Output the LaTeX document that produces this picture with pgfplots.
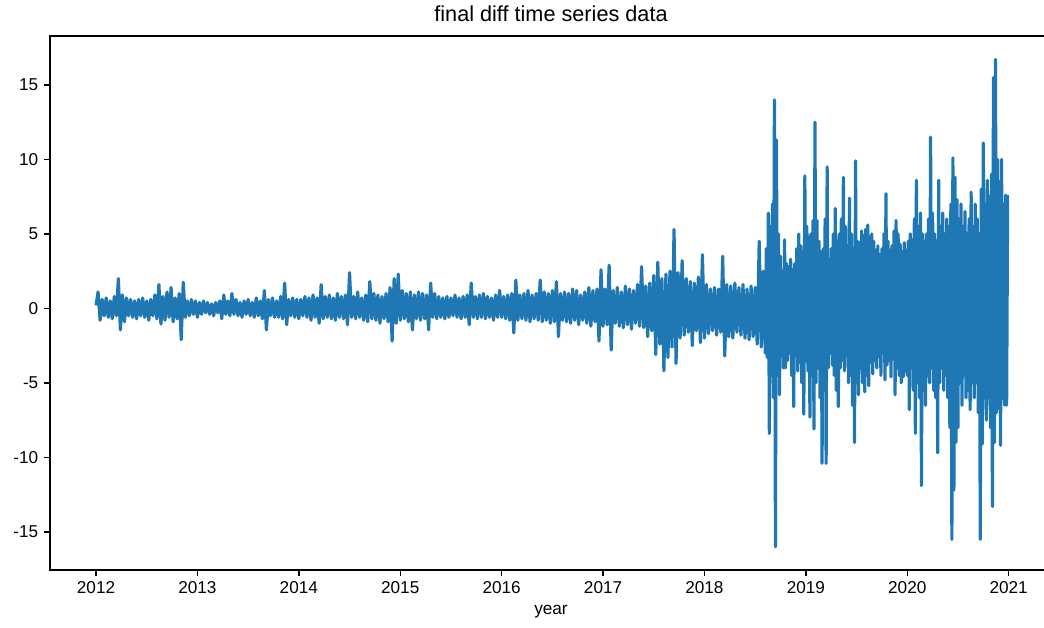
\documentclass[border=0pt]{standalone}
\usepackage{fontspec}
\setmainfont{Liberation Sans}
\usepackage{pgfplots}
\pgfplotsset{compat=1.18}
\definecolor{mplblue}{HTML}{1F77B4}
\begin{document}
\begin{tikzpicture}
\begin{axis}[
  scale only axis,
  width=612pt, height=320.4pt,
  xmin=2011.546, xmax=2021.605,
  ymin=-17.56, ymax=18.28,
  xtick={2012,2013,2014,2015,2016,2017,2018,2019,2020,2021},
  ytick={-15,-10,-5,0,5,10,15},
  /pgf/number format/assume math mode=true,
  /pgf/number format/1000 sep={},
  tick label style={font=\fontsize{10.3}{12}\selectfont},
  tick align=outside, tick pos=left,
  major tick length=3.5pt,
  every tick/.style={black, line width=0.8pt},
  axis line style={black, line width=0.8pt},
  title={final diff time series data},
  title style={font=\fontsize{13}{15}\selectfont, yshift=-1pt, xshift=-5.4pt},
  xlabel={year},
  xlabel style={font=\fontsize{10.3}{12}\selectfont, xshift=-5.4pt},
  clip=true,
]
\addplot[mplblue, line width=1.9pt, line join=round, no markers] table[row sep=\\] {
x y\\
2012.00 0.2\\ 2012.02 1.1\\ 2012.04 -0.8\\ 2012.06 0.6\\ 2012.08 -0.5\\ 2012.10 0.7\\ 2012.12 -0.6\\ 2012.14 0.5\\ 2012.16 -0.7\\ 2012.18 0.8\\
2012.20 -0.5\\ 2012.22 2.0\\ 2012.24 -1.45\\ 2012.26 0.9\\ 2012.28 -0.9\\ 2012.30 0.7\\ 2012.32 -0.5\\ 2012.34 0.6\\ 2012.36 -0.6\\ 2012.38 0.5\\
2012.40 -0.7\\ 2012.42 0.6\\ 2012.44 -0.5\\ 2012.46 0.7\\ 2012.48 -0.6\\ 2012.50 0.5\\ 2012.52 -0.8\\ 2012.54 0.6\\ 2012.56 -0.5\\ 2012.58 0.9\\
2012.60 -0.7\\ 2012.62 1.6\\ 2012.64 -1.05\\ 2012.66 0.8\\ 2012.68 -0.8\\ 2012.70 1.1\\ 2012.72 -0.6\\ 2012.74 1.4\\ 2012.76 -0.9\\ 2012.78 0.7\\
2012.80 -0.7\\ 2012.82 1.0\\ 2012.84 -2.1\\ 2012.86 1.75\\ 2012.88 -0.6\\ 2012.90 0.5\\ 2012.92 -0.5\\ 2012.94 0.6\\ 2012.96 -0.4\\ 2012.98 0.5\\
2013.00 -0.6\\ 2013.02 0.4\\ 2013.04 -0.4\\ 2013.06 0.5\\ 2013.08 -0.3\\ 2013.10 0.4\\ 2013.12 -0.4\\ 2013.14 0.3\\ 2013.16 -0.5\\ 2013.18 0.4\\
2013.20 -0.3\\ 2013.22 0.5\\ 2013.24 -0.7\\ 2013.26 0.9\\ 2013.28 -0.4\\ 2013.30 0.5\\ 2013.32 -0.5\\ 2013.34 1.0\\ 2013.36 -0.4\\ 2013.38 0.6\\
2013.40 -0.5\\ 2013.42 0.4\\ 2013.44 -0.6\\ 2013.46 0.5\\ 2013.48 -0.4\\ 2013.50 0.6\\ 2013.52 -0.5\\ 2013.54 0.4\\ 2013.56 -0.6\\ 2013.58 0.7\\
2013.60 -0.5\\ 2013.62 0.5\\ 2013.64 -0.7\\ 2013.66 1.2\\ 2013.68 -1.45\\ 2013.70 0.6\\ 2013.72 -0.5\\ 2013.74 0.7\\ 2013.76 -0.6\\ 2013.78 0.5\\
2013.80 -0.6\\ 2013.82 0.8\\ 2013.84 -0.7\\ 2013.86 1.7\\ 2013.88 -1.1\\ 2013.90 0.6\\ 2013.92 -0.5\\ 2013.94 0.7\\ 2013.96 -0.6\\ 2013.98 0.6\\
2014.00 -0.7\\ 2014.02 0.6\\ 2014.04 -0.5\\ 2014.06 0.8\\ 2014.08 -0.6\\ 2014.10 0.7\\ 2014.12 -0.8\\ 2014.14 0.9\\ 2014.16 -0.6\\ 2014.18 0.7\\
2014.20 -1.0\\ 2014.22 1.6\\ 2014.24 -0.7\\ 2014.26 0.8\\ 2014.28 -0.6\\ 2014.30 0.9\\ 2014.32 -0.7\\ 2014.34 0.7\\ 2014.36 -0.8\\ 2014.38 1.0\\
2014.40 -0.6\\ 2014.42 0.8\\ 2014.44 -0.7\\ 2014.46 0.9\\ 2014.48 -1.1\\ 2014.50 2.4\\ 2014.52 -0.6\\ 2014.54 0.8\\ 2014.56 -0.7\\ 2014.58 1.1\\
2014.60 -0.6\\ 2014.62 0.7\\ 2014.64 -0.8\\ 2014.66 0.9\\ 2014.68 -0.9\\ 2014.70 1.8\\ 2014.72 -0.7\\ 2014.74 1.0\\ 2014.76 -0.8\\ 2014.78 0.9\\
2014.80 -1.0\\ 2014.82 0.8\\ 2014.84 -0.7\\ 2014.86 1.0\\ 2014.88 -0.9\\ 2014.90 1.4\\ 2014.92 -2.2\\ 2014.94 2.0\\ 2014.96 -1.0\\ 2014.98 2.3\\
2015.00 -0.8\\ 2015.02 1.2\\ 2015.04 -0.7\\ 2015.06 1.0\\ 2015.08 -0.9\\ 2015.10 1.1\\ 2015.12 -1.45\\ 2015.14 0.9\\ 2015.16 -0.7\\ 2015.18 1.1\\
2015.20 -0.8\\ 2015.22 1.0\\ 2015.24 -0.7\\ 2015.26 0.9\\ 2015.28 -1.45\\ 2015.30 1.7\\ 2015.32 -0.6\\ 2015.34 1.0\\ 2015.36 -0.7\\ 2015.38 0.8\\
2015.40 -0.6\\ 2015.42 0.7\\ 2015.44 -0.7\\ 2015.46 0.8\\ 2015.48 -0.6\\ 2015.50 0.7\\ 2015.52 -0.5\\ 2015.54 0.9\\ 2015.56 -0.6\\ 2015.58 0.7\\
2015.60 -0.7\\ 2015.62 0.8\\ 2015.64 -0.6\\ 2015.66 0.9\\ 2015.68 -1.1\\ 2015.70 1.7\\ 2015.72 -0.6\\ 2015.74 0.8\\ 2015.76 -0.7\\ 2015.78 0.9\\
2015.80 -0.6\\ 2015.82 1.0\\ 2015.84 -0.7\\ 2015.86 0.8\\ 2015.88 -0.6\\ 2015.90 0.7\\ 2015.92 -0.8\\ 2015.94 0.9\\ 2015.96 -0.6\\ 2015.98 1.2\\
2016.00 -0.6\\ 2016.02 0.8\\ 2016.04 -0.7\\ 2016.06 0.9\\ 2016.08 -0.8\\ 2016.10 1.0\\ 2016.12 -1.65\\ 2016.14 1.9\\ 2016.16 -0.8\\ 2016.18 0.9\\
2016.20 -0.7\\ 2016.22 1.0\\ 2016.24 -0.8\\ 2016.26 1.2\\ 2016.28 -0.9\\ 2016.30 0.9\\ 2016.32 -0.7\\ 2016.34 1.0\\ 2016.36 -0.8\\ 2016.38 1.9\\
2016.40 -0.9\\ 2016.42 1.1\\ 2016.44 -0.8\\ 2016.46 1.0\\ 2016.48 -1.0\\ 2016.50 1.2\\ 2016.52 -0.9\\ 2016.54 1.8\\ 2016.56 -1.9\\ 2016.58 1.0\\
2016.60 -0.8\\ 2016.62 1.1\\ 2016.64 -0.9\\ 2016.66 1.0\\ 2016.68 -1.0\\ 2016.70 1.3\\ 2016.72 -0.8\\ 2016.74 1.2\\ 2016.76 -1.1\\ 2016.78 0.9\\
2016.80 -0.8\\ 2016.82 1.1\\ 2016.84 -1.0\\ 2016.86 1.4\\ 2016.88 -1.2\\ 2016.90 1.2\\ 2016.92 -0.9\\ 2016.94 1.3\\ 2016.96 -2.2\\ 2016.98 2.6\\
2017.00 -1.2\\ 2017.02 1.3\\ 2017.04 -1.1\\ 2017.06 2.9\\ 2017.08 -2.8\\ 2017.10 1.2\\ 2017.12 -1.0\\ 2017.14 1.4\\ 2017.16 -1.2\\ 2017.18 1.1\\
2017.20 -1.3\\ 2017.22 1.5\\ 2017.24 -1.1\\ 2017.26 1.3\\ 2017.28 -1.4\\ 2017.30 1.2\\ 2017.32 -1.0\\ 2017.34 1.6\\ 2017.36 -1.2\\ 2017.38 2.8\\
2017.40 -1.3\\ 2017.42 1.5\\ 2017.44 -1.9\\ 2017.46 1.7\\ 2017.48 -1.5\\ 2017.50 2.2\\ 2017.52 -3.1\\ 2017.54 3.1\\ 2017.56 -2.4\\ 2017.58 2.0\\
2017.60 -4.2\\ 2017.62 2.3\\ 2017.64 -3.3\\ 2017.66 2.5\\ 2017.68 -2.6\\ 2017.70 5.3\\ 2017.72 -3.7\\ 2017.74 2.4\\ 2017.76 -2.0\\ 2017.78 3.2\\
2017.80 -1.8\\ 2017.82 2.0\\ 2017.84 -1.6\\ 2017.86 1.8\\ 2017.88 -2.5\\ 2017.90 1.7\\ 2017.92 -1.5\\ 2017.94 2.1\\ 2017.96 -2.3\\ 2017.98 3.6\\
2018.00 -2.0\\ 2018.02 1.6\\ 2018.04 -1.7\\ 2018.06 1.3\\ 2018.08 -1.5\\ 2018.10 1.4\\ 2018.12 -1.8\\ 2018.14 1.3\\ 2018.16 -1.6\\ 2018.18 3.5\\
2018.20 -3.2\\ 2018.22 1.6\\ 2018.24 -1.9\\ 2018.26 1.5\\ 2018.28 -2.0\\ 2018.30 1.7\\ 2018.32 -1.6\\ 2018.34 1.4\\ 2018.36 -1.8\\ 2018.38 1.6\\
2018.40 -2.0\\ 2018.42 1.3\\ 2018.44 -2.1\\ 2018.46 1.5\\ 2018.48 -1.9\\ 2018.50 1.4\\ 2018.52 -2.4\\ 2018.54 4.5\\ 2018.56 -2.6\\ 2018.58 2.5\\
2018.60 -3.0\\ 2018.61 4.0\\ 2018.62 -3.3\\ 2018.63 6.4\\ 2018.64 -8.4\\ 2018.65 5.5\\ 2018.66 -4.5\\ 2018.67 7.0\\ 2018.68 -6.0\\ 2018.69 14.0\\
2018.70 -16.0\\ 2018.71 11.3\\ 2018.72 -4.5\\ 2018.73 5.0\\ 2018.74 -5.8\\ 2018.75 3.5\\ 2018.76 -3.2\\ 2018.77 2.5\\ 2018.78 -4.0\\ 2018.79 4.6\\
2018.80 -4.0\\ 2018.81 3.0\\ 2018.82 -3.5\\ 2018.83 2.8\\ 2018.84 -3.0\\ 2018.85 3.3\\ 2018.86 -4.5\\ 2018.87 2.6\\ 2018.88 -6.6\\ 2018.89 3.0\\
2018.90 -3.2\\ 2018.91 4.0\\ 2018.92 -4.2\\ 2018.93 5.0\\ 2018.94 -3.6\\ 2018.95 4.2\\ 2018.96 -5.0\\ 2018.97 3.8\\ 2018.98 -7.1\\ 2018.99 8.9\\
2019.00 -3.5\\ 2019.01 5.5\\ 2019.02 -4.2\\ 2019.03 4.8\\ 2019.04 -7.3\\ 2019.05 5.0\\ 2019.06 -4.5\\ 2019.07 5.9\\ 2019.08 -8.1\\ 2019.09 12.5\\
2019.10 -5.0\\ 2019.11 5.9\\ 2019.12 -4.0\\ 2019.13 4.5\\ 2019.14 -6.0\\ 2019.15 3.8\\ 2019.16 -10.4\\ 2019.17 4.0\\ 2019.18 -5.5\\ 2019.19 6.0\\
2019.20 -10.4\\ 2019.21 9.5\\ 2019.22 -4.0\\ 2019.23 3.3\\ 2019.24 -3.0\\ 2019.25 4.0\\ 2019.26 -3.8\\ 2019.27 5.0\\ 2019.28 -4.5\\ 2019.29 6.7\\
2019.30 -5.5\\ 2019.31 4.5\\ 2019.32 -6.6\\ 2019.33 5.0\\ 2019.34 -4.0\\ 2019.35 6.0\\ 2019.36 -3.5\\ 2019.37 8.8\\ 2019.38 -4.2\\ 2019.39 5.5\\
2019.40 -3.2\\ 2019.41 4.2\\ 2019.42 -5.0\\ 2019.43 7.4\\ 2019.44 -4.5\\ 2019.45 5.0\\ 2019.46 -6.5\\ 2019.47 4.0\\ 2019.48 -9.0\\ 2019.49 9.9\\
2019.50 -5.0\\ 2019.51 4.5\\ 2019.52 -5.8\\ 2019.53 4.4\\ 2019.54 -4.0\\ 2019.55 5.2\\ 2019.56 -5.0\\ 2019.57 4.9\\ 2019.58 -5.6\\ 2019.59 5.3\\
2019.60 -4.5\\ 2019.61 5.6\\ 2019.62 -5.2\\ 2019.63 4.8\\ 2019.64 -3.6\\ 2019.65 5.0\\ 2019.66 -4.4\\ 2019.67 4.5\\ 2019.68 -3.5\\ 2019.69 3.9\\
2019.70 -4.0\\ 2019.71 4.2\\ 2019.72 -3.2\\ 2019.73 3.6\\ 2019.74 -4.5\\ 2019.75 4.0\\ 2019.76 -3.0\\ 2019.77 5.0\\ 2019.78 -4.8\\ 2019.79 7.7\\
2019.80 -3.8\\ 2019.81 4.5\\ 2019.82 -3.5\\ 2019.83 3.9\\ 2019.84 -4.6\\ 2019.85 4.2\\ 2019.86 -3.4\\ 2019.87 5.2\\ 2019.88 -5.8\\ 2019.89 5.9\\
2019.90 -4.0\\ 2019.91 5.0\\ 2019.92 -4.5\\ 2019.93 4.3\\ 2019.94 -5.0\\ 2019.95 3.8\\ 2019.96 -4.6\\ 2019.97 4.4\\ 2019.98 -4.2\\ 2019.99 3.9\\
2020.00 -4.5\\ 2020.01 4.5\\ 2020.02 -6.8\\ 2020.03 5.0\\ 2020.04 -4.0\\ 2020.05 4.6\\ 2020.06 -5.5\\ 2020.07 6.0\\ 2020.08 -8.4\\ 2020.09 8.6\\
2020.10 -5.0\\ 2020.11 5.5\\ 2020.12 -6.0\\ 2020.13 6.4\\ 2020.14 -11.9\\ 2020.15 5.0\\ 2020.16 -5.5\\ 2020.17 4.5\\ 2020.18 -6.5\\ 2020.19 5.0\\
2020.20 -4.5\\ 2020.21 6.0\\ 2020.22 -5.0\\ 2020.23 11.5\\ 2020.24 -4.0\\ 2020.25 6.4\\ 2020.26 -5.5\\ 2020.27 5.0\\ 2020.28 -6.0\\ 2020.29 4.5\\
2020.30 -9.7\\ 2020.31 8.6\\ 2020.32 -5.0\\ 2020.33 5.5\\ 2020.34 -4.0\\ 2020.35 6.4\\ 2020.36 -5.5\\ 2020.37 5.0\\ 2020.38 -4.5\\ 2020.39 6.0\\
2020.40 -6.0\\ 2020.41 5.5\\ 2020.42 -8.0\\ 2020.43 7.0\\ 2020.44 -15.5\\ 2020.45 10.1\\ 2020.46 -12.2\\ 2020.47 8.8\\ 2020.48 -9.0\\ 2020.49 7.3\\
2020.50 -8.0\\ 2020.51 6.0\\ 2020.52 -5.0\\ 2020.53 7.0\\ 2020.54 -6.5\\ 2020.55 5.5\\ 2020.56 -4.5\\ 2020.57 6.5\\ 2020.58 -6.0\\ 2020.59 5.0\\
2020.60 -5.5\\ 2020.61 6.0\\ 2020.62 -6.8\\ 2020.63 7.8\\ 2020.64 -5.0\\ 2020.65 5.5\\ 2020.66 -6.0\\ 2020.67 7.0\\ 2020.68 -5.0\\ 2020.69 6.0\\
2020.70 -7.0\\ 2020.71 5.0\\ 2020.72 -15.5\\ 2020.73 8.0\\ 2020.74 -9.1\\ 2020.75 11.1\\ 2020.76 -6.0\\ 2020.77 7.0\\ 2020.78 -7.5\\ 2020.79 8.6\\
2020.80 -6.0\\ 2020.81 7.5\\ 2020.82 -8.0\\ 2020.83 9.0\\ 2020.84 -13.3\\ 2020.85 15.5\\ 2020.86 -9.0\\ 2020.87 16.7\\ 2020.88 -7.0\\ 2020.89 10.0\\
2020.90 -6.7\\ 2020.91 8.5\\ 2020.92 -9.2\\ 2020.93 10.0\\ 2020.94 -6.0\\ 2020.95 7.0\\ 2020.96 -6.5\\ 2020.97 7.6\\ 2020.98 -6.5\\ 2020.99 7.6\\
};
\end{axis}
\pgfresetboundingbox
\path (current axis.south west) ++(-30pt,-34.8pt) rectangle ++(626.4pt,376.8pt);
\end{tikzpicture}
\end{document}
